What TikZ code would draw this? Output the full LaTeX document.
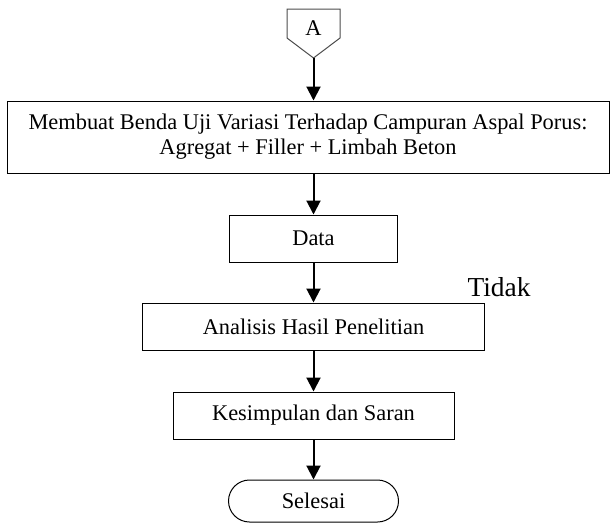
\documentclass[tikz,border=0pt]{standalone}
\usepackage{fontspec}
\setmainfont{Liberation Serif}
\usetikzlibrary{arrows.meta,shapes.misc}

\begin{document}
\begin{tikzpicture}[x=0.5pt,y=-0.5pt]

\tikzstyle{proses} = [rectangle, draw=black, line width=0.5pt, minimum height=23.5pt, inner sep=0pt, font=\fontsize{11.2}{12.5}\selectfont]
\tikzstyle{terminal} = [rounded rectangle, draw=black, line width=0.5pt, minimum width=85pt, minimum height=21pt, inner sep=0pt, font=\fontsize{11.2}{12.5}\selectfont]
\tikzstyle{teks} = [inner sep=0pt, font=\fontsize{11.2}{12.5}\selectfont]
\tikzstyle{panah} = [-{Triangle[length=7pt,width=7pt]}, line width=1pt]

\useasboundingbox (0,0) rectangle (616,526);

% penghubung A
\draw[gray!60!black, line width=0.5pt] (287,9) -- (340,9) -- (340,38) -- (313.5,58) -- (287,38) -- cycle;
\node[teks] (A) at (313.5,28) {A};
\coordinate (Aujung) at (313.5,58);

\node[proses, minimum width=301pt, minimum height=36pt, align=center] (buat) at (308,137) {Membuat Benda Uji Variasi Terhadap Campuran Aspal Porus:\\Agregat + Filler + Limbah Beton};
\node[proses, minimum width=84pt] (data) at (313.5,238.5) {Data};
\node[proses, minimum width=171pt] (analisis) at (313.5,326.5) {Analisis Hasil Penelitian};
\node[proses, minimum width=140.5pt] (kesimpulan) at (313.5,415.5) {Kesimpulan dan Saran};
\node[terminal] (selesai) at (313.5,501) {Selesai};

\node[teks, font=\fontsize{13.7}{15}\selectfont] (tidak) at (499,287) {Tidak};

\draw[panah] (Aujung) -- (Aujung |- buat.north);
\draw[panah] (data.north |- buat.south) -- (data.north);
\draw[panah] (data.south) -- (analisis.north);
\draw[panah] (analisis.south) -- (kesimpulan.north);
\draw[panah] (kesimpulan.south) -- (selesai.north);

\end{tikzpicture}
\end{document}
